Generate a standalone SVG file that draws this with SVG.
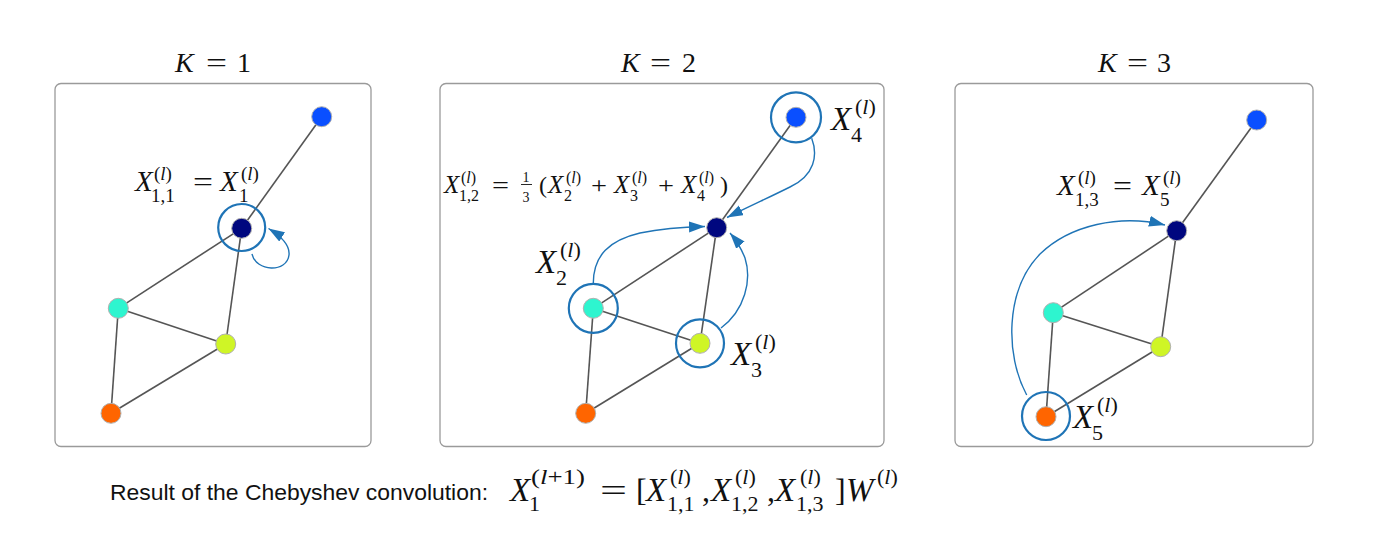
<svg xmlns="http://www.w3.org/2000/svg" width="1400" height="557" viewBox="0 0 1400 557">
<style>
.box{fill:#fff;stroke:#9a9a9a;stroke-width:1.3}
.edge{stroke:#555;stroke-width:1.6;fill:none}
.nd{stroke:#b0b0b0;stroke-width:1}
.ring{fill:none;stroke:#1f74b6;stroke-width:2.2}
.arr{fill:none;stroke:#1f74b6;stroke-width:1.4;marker-end:url(#ah)}
.m{font-family:"Liberation Serif","Times New Roman",serif;fill:#111}
.i{font-style:italic}
.t{font-family:"Liberation Sans",Arial,sans-serif;fill:#111}
.c1{fill:#0a4fff}.c2{fill:#00077f}.c3{fill:#2ef5cf}.c4{fill:#cff526}.c5{fill:#ff6500}
</style>
<defs>
<marker id="ah" markerUnits="userSpaceOnUse" markerWidth="17" markerHeight="12" refX="16" refY="5.5" orient="auto">
<path d="M0,0 L16,5.5 L0,11 z" fill="#1f74b6"/>
</marker>
</defs>
<rect width="1400" height="557" fill="#fff"/>

<!-- Panel 1 -->
<g id="panel1">
<rect class="box" x="55" y="83.5" width="316" height="363" rx="6"/>
<g id="title1" class="m" font-size="28">
<text class="i" x="175" y="72">K</text>
<text x="206" y="72" textLength="21" lengthAdjust="spacingAndGlyphs">=</text>
<text x="237" y="72">1</text>
</g>
<g id="p1-edges">
<line class="edge" x1="321.7" y1="116.7" x2="241.7" y2="228.3"/>
<line class="edge" x1="241.7" y1="228.3" x2="118.3" y2="308.3"/>
<line class="edge" x1="241.7" y1="228.3" x2="225.7" y2="344"/>
<line class="edge" x1="118.3" y1="308.3" x2="225.7" y2="344"/>
<line class="edge" x1="118.3" y1="308.3" x2="111" y2="413.3"/>
<line class="edge" x1="225.7" y1="344" x2="111" y2="413.3"/>
</g>
<g id="p1-n4"><circle class="nd c1" cx="321.7" cy="116.7" r="10"/></g>
<g id="p1-n1"><circle class="nd c2" cx="241.7" cy="228.3" r="10"/><circle class="ring" cx="241.7" cy="227.5" r="23.5"/></g>
<g id="p1-n2"><circle class="nd c3" cx="118.3" cy="308.3" r="10"/></g>
<g id="p1-n3"><circle class="nd c4" cx="225.7" cy="344" r="10"/></g>
<g id="p1-n5"><circle class="nd c5" cx="111" cy="413.3" r="10"/></g>
<g id="p1-connectors">
<path class="arr" d="M252,254 C256,272 287,273 289,255 C290,246 284,238 268.5,228.5"/>
</g>
<g id="p1-label" class="m">
<text class="i" x="135" y="191" font-size="29">X</text>
<text x="154" y="180" font-size="19">(<tspan class="i">l</tspan>)</text>
<text x="151" y="202" font-size="19">1,1</text>
<text x="193" y="191" font-size="28" textLength="20" lengthAdjust="spacingAndGlyphs">=</text>
<text class="i" x="220" y="191" font-size="29">X</text>
<text x="241" y="180" font-size="19">(<tspan class="i">l</tspan>)</text>
<text x="239" y="202" font-size="19">1</text>
</g>
</g>

<!-- Panel 2 -->
<g id="panel2">
<rect class="box" x="440" y="83.5" width="444" height="363" rx="6"/>
<g id="title2" class="m" font-size="28">
<text class="i" x="621" y="72">K</text>
<text x="650" y="72" textLength="21" lengthAdjust="spacingAndGlyphs">=</text>
<text x="682" y="72">2</text>
</g>
<g id="p2-edges">
<line class="edge" x1="796" y1="117.3" x2="716.7" y2="227.7"/>
<line class="edge" x1="716.7" y1="227.7" x2="593.3" y2="308.3"/>
<line class="edge" x1="716.7" y1="227.7" x2="700" y2="343.3"/>
<line class="edge" x1="593.3" y1="308.3" x2="700" y2="343.3"/>
<line class="edge" x1="593.3" y1="308.3" x2="585.7" y2="413.3"/>
<line class="edge" x1="700" y1="343.3" x2="585.7" y2="413.3"/>
</g>
<g id="p2-n4"><circle class="nd c1" cx="796" cy="117.3" r="10"/><circle class="ring" cx="796" cy="117.3" r="25"/></g>
<g id="p2-n1"><circle class="nd c2" cx="716.7" cy="227.7" r="10"/></g>
<g id="p2-n2"><circle class="nd c3" cx="593.3" cy="308.3" r="10"/><circle class="ring" cx="593.3" cy="308.3" r="24.5"/></g>
<g id="p2-n3"><circle class="nd c4" cx="700" cy="343.3" r="10"/><circle class="ring" cx="700" cy="343.3" r="24"/></g>
<g id="p2-n5"><circle class="nd c5" cx="585.7" cy="413.3" r="10"/></g>
<g id="p2-connectors">
<path class="arr" d="M811.7,138.3 C818,155 815,175 790,187 C770,197 750,206 727,217.5"/>
<path class="arr" d="M593.3,284 C593,255 610,240 640,233 C665,228 685,227 705,226.5"/>
<path class="arr" d="M721,328 C745,310 752,280 745,258 C741,248 736,240 730,233"/>
</g>
<g id="p2-formula" class="m">
<text class="i" x="444" y="193" font-size="25">X</text>
<text x="461" y="183" font-size="16">(<tspan class="i">l</tspan>)</text>
<text x="459" y="201" font-size="16">1,2</text>
<text x="492" y="193" font-size="24" textLength="17" lengthAdjust="spacingAndGlyphs">=</text>
<text x="522.5" y="181.5" font-size="14">1</text>
<line x1="521" y1="184.5" x2="532" y2="184.5" stroke="#111" stroke-width="0.9"/>
<text x="522.5" y="202" font-size="14">3</text>
<text x="539" y="193" font-size="24">(</text>
<text class="i" x="548" y="193" font-size="25">X</text>
<text x="566" y="183" font-size="16">(<tspan class="i">l</tspan>)</text>
<text x="564" y="201" font-size="16">2</text>
<text x="591" y="193" font-size="24" textLength="16" lengthAdjust="spacingAndGlyphs">+</text>
<text class="i" x="614" y="193" font-size="25">X</text>
<text x="632" y="183" font-size="16">(<tspan class="i">l</tspan>)</text>
<text x="630" y="201" font-size="16">3</text>
<text x="658" y="193" font-size="24" textLength="16" lengthAdjust="spacingAndGlyphs">+</text>
<text class="i" x="681" y="193" font-size="25">X</text>
<text x="699" y="183" font-size="16">(<tspan class="i">l</tspan>)</text>
<text x="697" y="201" font-size="16">4</text>
<text x="720" y="193" font-size="24">)</text>
</g>
<g id="p2-label4" class="m">
<text class="i" x="831" y="130" font-size="33">X</text>
<text x="855" y="114" font-size="22">(<tspan class="i">l</tspan>)</text>
<text x="851" y="141.5" font-size="22">4</text>
</g>
<g id="p2-label2" class="m">
<text class="i" x="536" y="273" font-size="33">X</text>
<text x="560" y="257" font-size="22">(<tspan class="i">l</tspan>)</text>
<text x="556" y="285" font-size="22">2</text>
</g>
<g id="p2-label3" class="m">
<text class="i" x="731" y="365" font-size="33">X</text>
<text x="755" y="349" font-size="22">(<tspan class="i">l</tspan>)</text>
<text x="751" y="377" font-size="22">3</text>
</g>
</g>

<!-- Panel 3 -->
<g id="panel3">
<rect class="box" x="955" y="83.5" width="358" height="363" rx="6"/>
<g id="title3" class="m" font-size="28">
<text class="i" x="1098" y="72">K</text>
<text x="1127" y="72" textLength="21" lengthAdjust="spacingAndGlyphs">=</text>
<text x="1157" y="72">3</text>
</g>
<g id="p3-edges">
<line class="edge" x1="1256.7" y1="120" x2="1176.7" y2="230.7"/>
<line class="edge" x1="1176.7" y1="230.7" x2="1053.3" y2="312.7"/>
<line class="edge" x1="1176.7" y1="230.7" x2="1160.7" y2="346.7"/>
<line class="edge" x1="1053.3" y1="312.7" x2="1160.7" y2="346.7"/>
<line class="edge" x1="1053.3" y1="312.7" x2="1046" y2="416.7"/>
<line class="edge" x1="1160.7" y1="346.7" x2="1046" y2="416.7"/>
</g>
<g id="p3-n4"><circle class="nd c1" cx="1256.7" cy="120" r="10"/></g>
<g id="p3-n1"><circle class="nd c2" cx="1176.7" cy="230.7" r="10"/></g>
<g id="p3-n2"><circle class="nd c3" cx="1053.3" cy="312.7" r="10"/></g>
<g id="p3-n3"><circle class="nd c4" cx="1160.7" cy="346.7" r="10"/></g>
<g id="p3-n5"><circle class="nd c5" cx="1046" cy="416.7" r="10"/><circle class="ring" cx="1046" cy="416" r="24"/></g>
<g id="p3-connectors">
<path class="arr" d="M1026.7,395 C1005,355 1005,290 1040,254 C1070,225 1120,214 1165,225"/>
</g>
<g id="p3-label" class="m">
<text class="i" x="1057" y="195" font-size="29">X</text>
<text x="1078" y="184" font-size="19">(<tspan class="i">l</tspan>)</text>
<text x="1075" y="206" font-size="19">1,3</text>
<text x="1113" y="195" font-size="28" textLength="19" lengthAdjust="spacingAndGlyphs">=</text>
<text class="i" x="1142" y="195" font-size="29">X</text>
<text x="1163" y="184" font-size="19">(<tspan class="i">l</tspan>)</text>
<text x="1160" y="206" font-size="19">5</text>
</g>
<g id="p3-label5" class="m">
<text class="i" x="1073" y="428" font-size="33">X</text>
<text x="1097" y="412" font-size="22">(<tspan class="i">l</tspan>)</text>
<text x="1092" y="440" font-size="22">5</text>
</g>
</g>

<!-- Bottom result -->
<g id="result">
<text class="t" x="110" y="500" font-size="22" textLength="378" lengthAdjust="spacingAndGlyphs">Result of the Chebyshev convolution:</text>
<g class="m">
<text class="i" x="510" y="501" font-size="33">X</text>
<text x="531" y="484" font-size="22" textLength="54" lengthAdjust="spacingAndGlyphs">(<tspan class="i">l</tspan>+1)</text>
<text x="529" y="511" font-size="22">1</text>
<text x="600" y="501" font-size="32" textLength="27" lengthAdjust="spacingAndGlyphs">=</text>
<text x="636" y="501" font-size="32">[</text>
<text class="i" x="646" y="501" font-size="33">X</text>
<text x="670" y="484" font-size="22">(<tspan class="i">l</tspan>)</text>
<text x="667" y="511" font-size="22">1,1</text>
<text x="702" y="501" font-size="32">,</text>
<text class="i" x="711" y="501" font-size="33">X</text>
<text x="735" y="484" font-size="22">(<tspan class="i">l</tspan>)</text>
<text x="731" y="511" font-size="22">1,2</text>
<text x="767" y="501" font-size="32">,</text>
<text class="i" x="775" y="501" font-size="33">X</text>
<text x="800" y="484" font-size="22">(<tspan class="i">l</tspan>)</text>
<text x="796" y="511" font-size="22">1,3</text>
<text x="835" y="501" font-size="32">]</text>
<text class="i" x="846" y="501" font-size="33">W</text>
<text x="877" y="484" font-size="22">(<tspan class="i">l</tspan>)</text>
</g>
</g>
</svg>
